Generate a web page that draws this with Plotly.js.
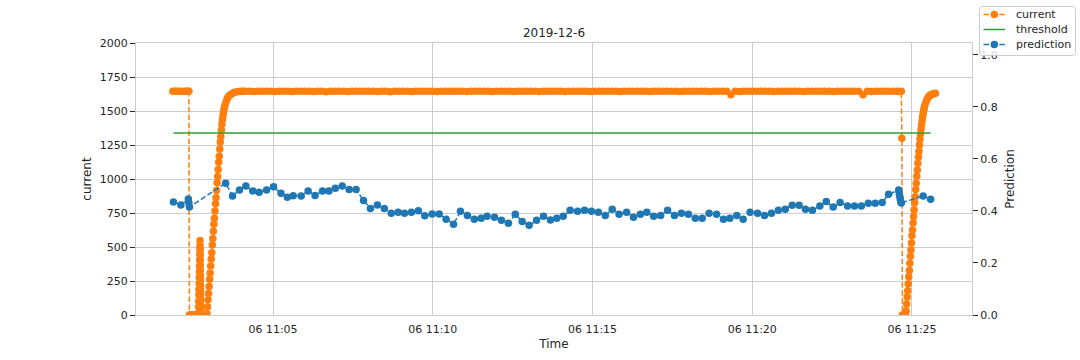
<!DOCTYPE html>
<html><head><meta charset="utf-8">
<script src="https://cdn.plot.ly/plotly-3.0.1.min.js"></script>
<style>html,body{margin:0;padding:0;background:#fff}#chart{width:1080px;height:360px}</style>
</head><body><div id="chart"></div>
<script>
// ---------- data (time = seconds after 2019-12-06 11:00:00) ----------
const DAY = '2019-12-06';
const chartTitle = '2019-12-6';

const currentSec = [
  112,116,120,124,128,132,136,140,142,
  143,145,147,149,151,153,155,157,159,
  160,160.25,160.5,160.75,161,161.25,161.5,161.75,162,162.25,162.5,162.75,163,
  163.1,163.2,163.3,163.4,163.5,163.6,163.7,163.8,163.9,164,164.1,164.2,164.3,164.4,164.5,
  165,167,169,171,173,175,
  176,177,178,179,180,181,182,183,184,185,186,187,188,189,190,191,192,193,
  194,195,196,197,198,199,200,201,202,203,204,205,206,207,208,209,210,
  212,214,216,218,221,224,228,232,236,240,244,
  248,256,264,272,280,288,296,304,312,320,
  328,336,344,352,360,368,376,384,392,400,
  408,416,424,432,440,448,456,464,472,480,
  488,496,504,512,520,528,536,544,552,560,
  568,576,584,592,600,608,616,624,632,640,
  648,656,664,672,680,688,696,704,712,720,
  728,736,744,752,760,768,776,784,792,800,
  808,816,824,832,840,848,856,864,872,880,
  888,896,904,912,920,928,936,944,952,960,
  968,976,984,992,1000,1008,1016,1024,1032,1040,
  1048,1056,1064,1072,1080,1088,1096,1104,1112,1120,
  1128,1136,1144,1152,1160,1168,1176,1184,1192,1200,
  1208,1216,1224,1232,1240,1248,1256,1264,1272,1280,
  1288,1296,1304,1312,1320,1328,1336,1344,1352,1360,
  1368,1376,1384,1392,1400,1408,1416,1424,1432,1440,
  1448,1456,1464,1472,1476,1480,
  1481,1482,1484,1486,1488,
  1489,1490,1491,1492,1493,1494,1495,1496,1497,1498,1499,1500,1501,1502,1503,1504,1505,1506,
  1507,1508,1509,1510,1511,1512,1513,1514,1515,1516,1517,1518,1519,1520,1521,1522,1523,1524,
  1526,1528,1530,1532,1534,1536,1538,1540,1542,1544
];
const currentVal = [
  1645,1645,1646,1645,1644,1645,1645,1646,1645,
  0,0,0,0,0,0,0,0,0,
  15,58,102,148,190,232,278,318,362,405,448,492,548,
  512,478,440,405,368,330,292,258,220,182,145,110,72,36,0,
  0,0,0,0,0,0,
  10,60,112,158,210,262,308,360,412,458,515,563,615,668,712,765,818,862,
  915,972,1018,1070,1123,1168,1220,1272,1313,1360,1402,1433,1465,1490,1512,1530,1546,
  1570,1590,1604,1614,1624,1631,1637,1641,1643,1645,1645,
  1645,1646,1644,1645,1645,1646,1645,1644,1645,1645,
  1645,1644,1645,1646,1645,1645,1644,1645,1645,1642,
  1645,1645,1646,1645,1644,1645,1645,1645,1646,1645,
  1645,1644,1645,1645,1641,1645,1646,1645,1645,1644,
  1645,1645,1645,1646,1645,1644,1645,1645,1645,1645,
  1646,1645,1644,1645,1645,1645,1646,1645,1644,1645,
  1645,1645,1645,1644,1645,1646,1645,1645,1645,1644,
  1645,1645,1646,1645,1645,1644,1645,1645,1645,1646,
  1645,1644,1645,1645,1645,1646,1645,1645,1644,1645,
  1645,1645,1646,1645,1645,1644,1645,1645,1645,1645,
  1646,1645,1644,1645,1645,1645,1646,1645,1645,1644,
  1645,1645,1645,1646,1620,1645,1644,1645,1645,1645,
  1645,1646,1645,1645,1644,1645,1645,1645,1646,1645,
  1645,1644,1645,1645,1645,1646,1645,1645,1644,1645,
  1645,1645,1645,1646,1645,1620,1645,1644,1645,1645,
  1645,1646,1645,1645,1644,1645,
  1300,0,0,0,0,
  30,80,132,178,230,282,328,380,432,478,530,582,625,676,725,773,826,870,
  922,968,1020,1066,1115,1162,1204,1250,1292,1330,1366,1400,1431,1458,1482,1505,1524,1540,
  1565,1584,1598,1608,1615,1620,1624,1627,1629,1630
];

const predSec = [
  113,127,141,142,143,
  211,224,237,249,262,274,288,301,315,327,338,353,366,379,393,405,417,430,443,456,
  470,483,496,509,522,535,547,560,573,585,599,612,625,639,652,665,678,691,702,716,
  729,742,755,768,781,795,808,821,833,845,858,872,885,898,911,924,937,950,964,977,
  990,1002,1015,1028,1041,1054,1067,1080,1093,1106,1119,1133,1146,1158,1171,1183,1196,1210,1223,1236,
  1249,1262,1275,1288,1300,1313,1327,1339,1352,1365,1379,1392,1405,1418,1431,1444,1456,
  1475,1476,1477,1478,1479,1480,
  1521,1535
];
const predVal = [
  0.435,0.423,0.446,0.431,0.415,
  0.507,0.458,0.481,0.496,0.477,0.472,0.481,0.493,0.468,0.453,0.459,0.458,0.477,0.460,0.477,0.477,0.487,0.496,0.483,0.483,
  0.440,0.410,0.423,0.410,0.391,0.395,0.391,0.395,0.401,0.382,0.388,0.388,0.368,0.349,0.399,0.383,0.368,0.372,0.380,0.376,
  0.364,0.353,0.387,0.360,0.345,0.364,0.380,0.365,0.372,0.380,0.403,0.399,0.403,0.399,0.395,0.383,0.407,0.387,0.395,0.376,
  0.387,0.395,0.380,0.383,0.403,0.383,0.391,0.387,0.372,0.372,0.391,0.387,0.368,0.372,0.383,0.368,0.395,0.391,0.383,0.391,
  0.403,0.407,0.422,0.422,0.407,0.403,0.419,0.436,0.415,0.433,0.419,0.419,0.419,0.430,0.430,0.433,0.464,
  0.481,0.469,0.458,0.446,0.435,0.431,
  0.458,0.445
];

const thresholdSec = [113, 1535];
const thresholdVal = [0.7, 0.7];

const xTickSec = [300, 600, 900, 1200, 1500];
const xRangeSec = [42.7, 1612.7];
const yLeftTicks = [0, 250, 500, 750, 1000, 1250, 1500, 1750, 2000];
const yRightTicks = [0, 0.2, 0.4, 0.6, 0.8, 1.0];

// ---------- helpers ----------
function toTime(s) {
  const m = Math.floor(s / 60);
  const sec = s - m * 60;
  const mm = String(m).padStart(2, '0');
  const ss = sec.toFixed(2).padStart(5, '0');
  return DAY + ' 11:' + mm + ':' + ss;
}

const W = 1080, H = 360;
const M = {l: 136, r: 108, t: 43, b: 45};
const PW = W - M.l - M.r, PH = H - M.t - M.b;
const px = x => (x - M.l) / PW;          // pixel x -> paper x
const py = y => (H - M.b - y) / PH;      // pixel y -> paper y

const ORANGE = '#ff7f0e', BLUE = '#1f77b4', GREEN = '#2ca02c';
const DASH = '5.5px,2.4px';
const GRID = '#cccccc', TXT = '#262626';

const traces = [
  {
    name: 'current', x: currentSec.map(toTime), y: currentVal, yaxis: 'y',
    type: 'scatter', mode: 'lines+markers',
    line: {color: ORANGE, width: 1.5, dash: DASH},
    marker: {color: ORANGE, size: 7.5}
  },
  {
    name: 'threshold', x: thresholdSec.map(toTime), y: thresholdVal, yaxis: 'y2',
    type: 'scatter', mode: 'lines',
    line: {color: GREEN, width: 1.5}
  },
  {
    name: 'prediction', x: predSec.map(toTime), y: predVal, yaxis: 'y2',
    type: 'scatter', mode: 'lines+markers',
    line: {color: BLUE, width: 1.5, dash: DASH},
    marker: {color: BLUE, size: 7.5}
  }
];

// ---------- figure-level legend box (matplotlib fig.legend look) ----------
const shapes = [];
const annotations = [];
(function buildLegend() {
  const x0 = 979.5, x1 = 1075.5, y0 = 6.5, y1 = 55.5, r = 3;
  const P = (x, y) => px(x) + ',' + py(y);
  shapes.push({
    type: 'path', xref: 'paper', yref: 'paper',
    path: 'M' + P(x0 + r, y0) + ' L' + P(x1 - r, y0) + ' Q' + P(x1, y0) + ' ' + P(x1, y0 + r) +
          ' L' + P(x1, y1 - r) + ' Q' + P(x1, y1) + ' ' + P(x1 - r, y1) +
          ' L' + P(x0 + r, y1) + ' Q' + P(x0, y1) + ' ' + P(x0, y1 - r) +
          ' L' + P(x0, y0 + r) + ' Q' + P(x0, y0) + ' ' + P(x0 + r, y0) + ' Z',
    line: {color: GRID, width: 1}, fillcolor: 'rgba(255,255,255,0.8)', layer: 'above'
  });
  const rows = [14.5, 29.5, 44.5];
  traces.forEach((t, i) => {
    const yy = rows[i];
    shapes.push({
      type: 'line', xref: 'paper', yref: 'paper', layer: 'above',
      x0: px(983.5), x1: px(1005), y0: py(yy), y1: py(yy),
      line: {color: t.line.color, width: 1.5, dash: t.line.dash || 'solid'}
    });
    if (t.marker) {
      const rr = 3.75, cx = 994.3;
      shapes.push({
        type: 'circle', xref: 'paper', yref: 'paper', layer: 'above',
        x0: px(cx - rr), x1: px(cx + rr), y0: py(yy + rr), y1: py(yy - rr),
        fillcolor: t.marker.color, line: {width: 0}
      });
    }
    annotations.push({
      xref: 'paper', yref: 'paper', x: px(1014), y: py(yy),
      xanchor: 'left', yanchor: 'middle', showarrow: false,
      text: t.name, font: {size: 11, color: TXT}
    });
  });
})();

const layout = {
  width: W, height: H,
  margin: {l: M.l, r: M.r, t: M.t, b: M.b, pad: 0, autoexpand: false},
  paper_bgcolor: '#ffffff', plot_bgcolor: '#ffffff',
  font: {family: 'DejaVu Sans, sans-serif', size: 11, color: TXT},
  title: {text: chartTitle, x: 0.5, xref: 'paper', xanchor: 'center',
          y: 1 - 33/360, yref: 'container', yanchor: 'middle',
          font: {size: 12, color: TXT}},
  showlegend: false,
  shapes: shapes,
  annotations: annotations,
  xaxis: {
    type: 'date', range: xRangeSec.map(toTime),
    tickvals: xTickSec.map(toTime), tickformat: '%d %H:%M',
    showgrid: true, gridcolor: GRID, gridwidth: 1,
    showline: true, linecolor: GRID, linewidth: 1, mirror: true,
    ticks: '', zeroline: false, ticklabelstandoff: 4,
    tickfont: {size: 11, color: TXT},
    title: {text: 'Time', font: {size: 12, color: TXT}, standoff: 4}
  },
  yaxis: {
    range: [0, 2000], tickvals: yLeftTicks,
    showgrid: true, gridcolor: GRID, gridwidth: 1,
    showline: true, linecolor: GRID, linewidth: 1,
    ticks: 'outside', ticklen: 5, tickcolor: TXT, tickwidth: 1,
    zeroline: false, tickfont: {size: 11, color: TXT},
    title: {text: 'current', font: {size: 12, color: TXT}, standoff: 5}
  },
  yaxis2: {
    overlaying: 'y', side: 'right', range: [0, 1.046],
    tickvals: yRightTicks, tickformat: '.1f',
    showgrid: false, showline: true, linecolor: GRID, linewidth: 1,
    ticks: 'outside', ticklen: 5, tickcolor: TXT, tickwidth: 1,
    zeroline: false, tickfont: {size: 11, color: TXT},
    title: {text: 'Prediction', font: {size: 12, color: TXT}, standoff: 8}
  }
};

Plotly.newPlot('chart', traces, layout, {displayModeBar: false, staticPlot: true});
</script>
</body></html>
